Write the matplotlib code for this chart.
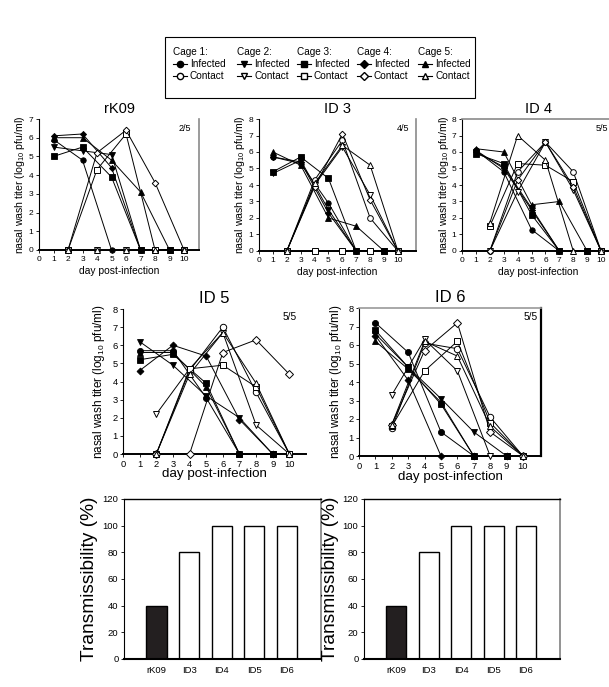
import matplotlib
matplotlib.use("Agg")
import matplotlib.pyplot as plt
from matplotlib.lines import Line2D
from matplotlib.patches import Rectangle
import numpy as np

plt.rcParams['font.family'] = ['Liberation Sans', 'DejaVu Sans']
plt.rcParams['mathtext.fontset'] = 'custom'
plt.rcParams['mathtext.rm'] = 'Liberation Sans'

# ---------------- data ----------------
days_infected = [1, 3, 5, 7, 9]
days_contact = [2, 4, 6, 8, 10]
cage_markers = ['o', 'v', 's', 'D', '^']
cage_names = ['Cage 1:', 'Cage 2:', 'Cage 3:', 'Cage 4:', 'Cage 5:']

# rows = cage 1..5, values at days_infected / days_contact (log10 pfu/ml)
rk09_infected = [[5.9, 4.8, 0, 0, 0],
                 [5.5, 5.3, 5.1, 0, 0],
                 [5.0, 5.5, 3.9, 0, 0],
                 [6.1, 6.2, 4.4, 0, 0],
                 [6.0, 6.0, 4.8, 3.1, 0]]
rk09_contact = [[0, 0, 0, 0, 0],
                [0, 0, 0, 0, 0],
                [0, 4.3, 6.2, 0, 0],
                [0, 5.2, 6.4, 3.6, 0],
                [0, 0, 0, 0, 0]]

id3_infected = [[5.7, 5.3, 2.9, 0, 0],
                [4.7, 5.5, 2.5, 0, 0],
                [4.8, 5.7, 4.4, 0, 0],
                [5.7, 5.4, 2.3, 0, 0],
                [6.0, 5.2, 2.0, 1.5, 0]]
id3_contact = [[0, 4.3, 6.7, 2.0, 0],
               [0, 4.0, 6.3, 3.4, 0],
               [0, 0, 0, 0, 0],
               [0, 3.9, 7.1, 3.1, 0],
               [0, 4.1, 6.4, 5.2, 0]]

id4_infected = [[6.1, 4.8, 1.3, 0, 0],
                [6.0, 5.1, 2.6, 0, 0],
                [5.9, 5.3, 2.2, 0, 0],
                [6.1, 5.0, 2.5, 0, 0],
                [6.2, 6.0, 2.8, 3.0, 0]]
id4_contact = [[0, 4.8, 6.6, 4.8, 0],
               [0, 3.6, 6.6, 3.7, 0],
               [1.5, 5.3, 5.2, 4.2, 0],
               [0, 4.3, 6.6, 3.9, 0],
               [1.7, 7.0, 5.5, 0, 0]]

id5_infected = [[5.7, 5.7, 3.1, 0, 0],
                [6.2, 4.9, 3.2, 2.0, 0],
                [5.2, 5.5, 3.9, 0, 0],
                [4.6, 6.0, 5.4, 1.9, 0],
                [5.6, 5.6, 3.7, 0, 0]]
id5_contact = [[0, 4.6, 7.0, 3.4, 0],
               [2.2, 4.7, 6.7, 1.6, 0],
               [0, 4.7, 4.9, 3.7, 0],
               [0, 0, 5.6, 6.3, 4.4],
               [0, 4.4, 6.7, 3.9, 0]]

id6_infected = [[7.2, 5.6, 1.3, 0, 0],
                [6.6, 4.8, 3.1, 1.3, 0],
                [6.8, 4.8, 2.8, 0, 0],
                [6.5, 4.1, 0, 0, 0],
                [6.2, 4.7, 2.9, 0, 0]]
id6_contact = [[1.5, 6.1, 5.8, 2.1, 0],
               [3.3, 6.3, 4.6, 0, 0],
               [1.6, 4.6, 6.2, 1.8, 0],
               [1.7, 5.7, 7.2, 1.3, 0],
               [1.7, 6.2, 5.4, 1.6, 0]]

panel_titles = ['rK09', 'ID 3', 'ID 4', 'ID 5', 'ID 6']
panel_fractions = ['2/5', '4/5', '5/5', '5/5', '5/5']
panel_ymax = [7, 8, 8, 8, 8]

bar_labels = ['rK09', 'ID3', 'ID4', 'ID5', 'ID6']
bar_values = [40, 80, 100, 100, 100]

# ---------------- layout ----------------
W, H = 609, 687
fig = plt.figure(figsize=(W / 100, H / 100), dpi=100)


def add_ax(left, top, right, bottom):
    return fig.add_axes([left / W, 1 - bottom / H, (right - left) / W, (bottom - top) / H])


panel_boxes = [(39, 119, 199, 250), (259, 119, 416, 251), (462, 119, 615, 251),
               (123, 309, 306, 454), (359, 308, 541, 456)]
panel_xmax = [11.03, 11.3, 11.0, 11.0, 11.1]
panel_infected = [rk09_infected, id3_infected, id4_infected, id5_infected, id6_infected]
panel_contact = [rk09_contact, id3_contact, id4_contact, id5_contact, id6_contact]
big = [False, False, False, True, True]
# spine styles: (top, right)
spine_style = [(None, '#8a8a8a'), (None, '#8a8a8a'), ('#8a8a8a', None),
               (None, None), ('#9a9a9a', 'black')]
frac_pos = [(0.95, 0.965), (0.96, 0.965), (0.955, 0.965), (0.95, 0.98), (0.98, 0.97)]

for i in range(5):
    ax = add_ax(*panel_boxes[i])
    s = 1.12 if big[i] else 1.0
    ms = 4.4 if big[i] else 3.9
    for c in range(5):
        ax.plot(days_infected, panel_infected[i][c], color='black', lw=0.7,
                marker=cage_markers[c], ms=ms * (0.8 if cage_markers[c] == 'D' else 1),
                mfc='black', mec='black', mew=0.6, clip_on=False, zorder=3)
    for c in range(5):
        ax.plot(days_contact, panel_contact[i][c], color='black', lw=0.7,
                marker=cage_markers[c], ms=ms * (0.85 if cage_markers[c] == 'D' else 1.05),
                mfc='white', mec='black', mew=0.7, clip_on=False, zorder=4)
    ax.set_xlim(0, panel_xmax[i])
    ax.set_ylim(0, panel_ymax[i])
    ax.set_xticks(range(0, 11))
    ax.set_yticks(range(0, panel_ymax[i] + 1))
    ax.tick_params(direction='out', length=2.5, width=0.6, labelsize=6.0 * s, pad=1.5)
    ax.spines['left'].set_linewidth(0.8)
    ax.spines['bottom'].set_linewidth(1.4)
    top_c, right_c = spine_style[i]
    for name, col in (('top', top_c), ('right', right_c)):
        if col is None:
            ax.spines[name].set_visible(False)
        else:
            ax.spines[name].set_color(col)
            ax.spines[name].set_linewidth(1.6 if col == 'black' else 1.2)
    ax.set_title(panel_titles[i], fontsize=12 if big[i] else 10.5, pad=4)
    ax.set_ylabel('nasal wash titer (log$_{10}$ pfu/ml)', fontsize=7.6 * s)
    ax.set_xlabel('day post-infection', fontsize=7.4 * (1.3 if big[i] else 1.0))
    if big[i]:
        ax.yaxis.set_label_coords(-0.085, 0.5)
        ax.xaxis.set_label_coords(0.5, -0.1)
    else:
        ax.yaxis.set_label_coords(-0.075, 0.5)
        ax.xaxis.set_label_coords(0.5, -0.12)
    ax.text(frac_pos[i][0], frac_pos[i][1], panel_fractions[i], transform=ax.transAxes,
            ha='right', va='top', fontsize=6.5 * s)

# ---------------- legend ----------------
leg_x = [173, 237, 297, 357, 418]
for c in range(5):
    h_inf = Line2D([], [], color='black', lw=0.8, marker=cage_markers[c], ms=4.5,
                   mfc='black', mec='black')
    h_con = Line2D([], [], color='black', lw=0.8, marker=cage_markers[c], ms=4.5,
                   mfc='white', mec='black')
    leg = fig.legend([h_inf, h_con], ['Infected', 'Contact'], title=cage_names[c],
                     loc='upper left', bbox_to_anchor=(leg_x[c] / W, 1 - 47 / H),
                     frameon=False, fontsize=7.2, title_fontsize=7.2, alignment='left',
                     handlelength=1.4, handletextpad=0.3, labelspacing=0.2,
                     borderpad=0, borderaxespad=0)
fig.add_artist(Rectangle((165 / W, 1 - 98 / H), (475 - 165) / W, (98 - 37) / H,
                         transform=fig.transFigure, fill=False, edgecolor='black', lw=0.8))

# ---------------- bar charts ----------------
bar_boxes = [(124, 499, 321, 659), (364, 499, 560, 659)]
for b in range(2):
    ax = add_ax(*bar_boxes[b])
    x = np.arange(len(bar_labels))
    colors = ['#231f20'] + ['white'] * (len(bar_labels) - 1)
    ax.bar(x, bar_values, width=0.62, color=colors, edgecolor='black', linewidth=1.0)
    ax.set_xlim(-1.0, 5.05)
    ax.set_ylim(0, 120)
    ax.set_yticks(range(0, 121, 20))
    ax.set_xticks(x)
    ax.set_xticklabels(bar_labels)
    ax.tick_params(axis='y', direction='out', length=2.5, width=0.6, labelsize=6.8, pad=1.5)
    ax.tick_params(axis='x', length=0, labelsize=6.8, pad=5)
    ax.spines['bottom'].set_linewidth(1.5)
    ax.spines['left'].set_linewidth(0.8)
    ax.spines['top'].set_linewidth(1.0)
    ax.spines['right'].set_color('#8a8a8a')
    ax.spines['right'].set_linewidth(1.3)
    ax.set_ylabel('Transmissibility (%)', fontsize=13.8)
    ax.yaxis.set_label_coords(-0.13, 0.5)

fig.savefig('out.png', dpi=100)
